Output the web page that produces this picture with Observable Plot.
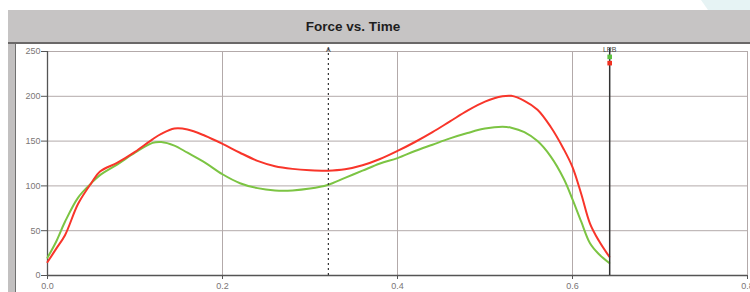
<!DOCTYPE html>
<html>
<head>
<meta charset="utf-8">
<script src="https://cdn.jsdelivr.net/npm/d3@7"></script>
<script src="https://cdn.jsdelivr.net/npm/@observablehq/plot@0.6"></script>
<style>
  html, body { margin: 0; padding: 0; background: #fff; }
  #wrap { position: relative; width: 750px; height: 292px; overflow: hidden; background: #fff; font-family: "Liberation Sans", Arial, sans-serif; }
  #deco { position: absolute; left: 680px; top: 0; width: 70px; height: 10px; background: #e6f3f4; clip-path: polygon(30% 0, 100% 0, 100% 100%, 40% 100%); }
  #band { position: absolute; left: 8px; top: 10px; width: 742px; height: 32px; background: #c6c4c4; border-bottom: 2px solid #6a6868; }
  #title { position: absolute; left: 8px; top: 10px; width: 690px; height: 32px; line-height: 34px; text-align: center; font-weight: bold; font-size: 13.5px; color: #1e1e1e; }
  #lstrip { position: absolute; left: 8px; top: 44px; width: 7px; height: 248px; background: #c2c0c0; }
  #panel { position: absolute; left: 15px; top: 44px; width: 735px; height: 248px; border-left: 1px solid #707070; background: #fff; }
  #panel svg { display: block; }
</style>
</head>
<body>
<div id="wrap">
  <div id="deco"></div>
  <div id="band"></div>
  <div id="title">Force vs. Time</div>
  <div id="lstrip"></div>
  <div id="panel"></div>
</div>
<script>
const time = [0, 0.01, 0.02, 0.035, 0.05, 0.06, 0.08, 0.10, 0.12, 0.13, 0.145, 0.16, 0.18, 0.20, 0.22, 0.24, 0.26, 0.28, 0.30, 0.32, 0.34, 0.36, 0.38, 0.40, 0.42, 0.44, 0.46, 0.48, 0.50, 0.52, 0.53, 0.545, 0.56, 0.575, 0.59, 0.60, 0.61, 0.62, 0.63, 0.642];
const redForce = [15, 30, 45, 80, 103, 116, 126, 138, 152, 158, 164, 163, 156, 147, 137, 128, 122, 119, 117.5, 117, 118.5, 123, 130, 139, 149, 160, 172, 184, 194, 200, 200.5, 195, 185, 166, 141, 121, 91, 58, 39, 21];
const greenForce = [20, 38, 60, 87, 103, 112, 124, 137, 148, 149, 145, 137, 126, 113, 103, 97.5, 95, 95, 97, 101, 109, 117, 125, 131, 139, 146, 153, 159, 164, 166, 165, 160, 150, 133, 108, 85, 60, 36, 24, 14];
const xTicks = [0, 0.2, 0.4, 0.6, 0.8];
const yTicks = [0, 50, 100, 150, 200, 250];
const cursorA = [0.321];
const cursorLRB = [0.6425];
const lrbMarkers = [{v: 244, c: "#5cc040"}, {v: 237, c: "#f03020"}];

const red = time.map((t, i) => ({t, v: redForce[i]}));
const green = time.map((t, i) => ({t, v: greenForce[i]}));

const chart = Plot.plot({
  width: 735,
  height: 248,
  marginLeft: 31,
  marginRight: 4,
  marginTop: 7,
  marginBottom: 17,
  x: {domain: [0, 0.8], label: null},
  y: {domain: [0, 250], label: null},
  style: {fontSize: "9px", fontFamily: "Liberation Sans, Arial, sans-serif", color: "#7a7676", background: "transparent"},
  marks: [
    Plot.gridX(xTicks.slice(1), {stroke: "#b3aaaa", strokeOpacity: 1, strokeWidth: 1}),
    Plot.gridY(yTicks.slice(1), {stroke: "#b3aaaa", strokeOpacity: 1, strokeWidth: 1}),
    Plot.axisY(yTicks, {tickSize: 6, tickPadding: 1, stroke: "#555", tickFormat: d => d, fill: "#7a7676", label: null}),
    Plot.axisX(xTicks, {tickSize: 4, tickPadding: 3, stroke: "#555", tickFormat: d3.format(".1f"), fill: "#7a7676", label: null}),
    Plot.ruleX([0], {stroke: "#555", strokeWidth: 1.3}),
    Plot.ruleY([0], {stroke: "#555", strokeWidth: 1.3}),
    Plot.line(green, {x: "t", y: "v", stroke: "#7cc443", strokeWidth: 2, curve: "catmull-rom"}),
    Plot.line(red, {x: "t", y: "v", stroke: "#f8352a", strokeWidth: 2, curve: "catmull-rom"}),
    Plot.ruleX(cursorA, {stroke: "#333", strokeWidth: 1.2, strokeDasharray: "2,3", insetTop: -3}),
    Plot.ruleX(cursorLRB, {stroke: "#333", strokeWidth: 1.5, insetTop: -3}),
    Plot.text(cursorA, {x: d => d, frameAnchor: "top", dy: -4, text: () => "A", fontSize: 7, fill: "#444"}),
    Plot.text(cursorLRB, {x: d => d, frameAnchor: "top", dy: -4, text: () => "LRB", fontSize: 7, fill: "#444"}),
    Plot.dot(lrbMarkers, {x: () => cursorLRB[0], y: "v", fill: "c", symbol: "square", r: 2.6})
  ]
});
document.getElementById("panel").appendChild(chart);
</script>
</body>
</html>
